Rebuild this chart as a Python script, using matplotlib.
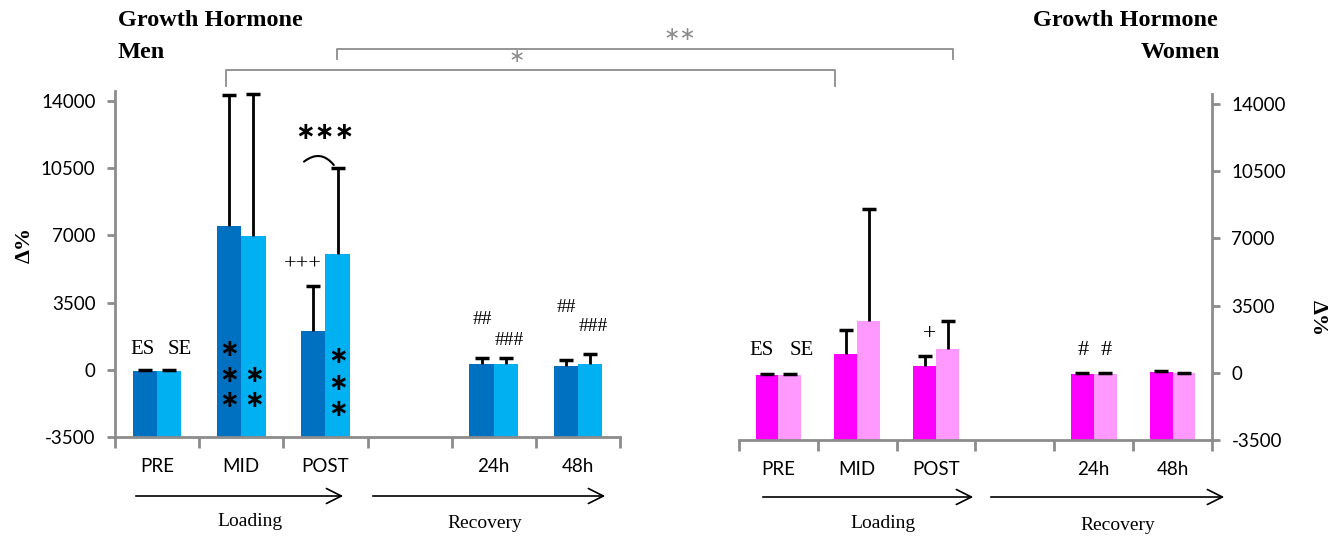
import numpy as np
import matplotlib
matplotlib.use("Agg")
import matplotlib.pyplot as plt
from matplotlib.lines import Line2D
from matplotlib.patches import FancyArrowPatch

# data (delta % vs baseline)
categories = ["PRE", "MID", "POST", "", "24h", "48h"]
men_es = [-50, 7500, 2000, np.nan, 280, 180]
men_es_sd = [30, 6800, 2390, np.nan, 350, 340]
men_se = [-50, 6960, 6040, np.nan, 280, 280]
men_se_sd = [30, 7420, 4490, np.nan, 350, 520]
women_es = [-90, 960, 350, np.nan, -50, 40]
women_es_sd = [30, 1260, 525, np.nan, 40, 50]
women_se = [-90, 2680, 1260, np.nan, -50, -20]
women_se_sd = [30, 5840, 1450, np.nan, 40, 30]
yticks = [-3500, 0, 3500, 7000, 10500, 14000]

W, H = 1334, 539
YMIN, YMAX = -3500, 14500
SANS = "Lato"
SERIF = "Liberation Serif"
GREY = "#8c8c8c"


def fx(x):
    return x / W


def fy(y):
    return 1 - y / H


fig = plt.figure(figsize=(W / 100, H / 100), dpi=100)
ax1 = fig.add_axes([fx(115), fy(437), 505 / W, 345.6 / H])
ax2 = fig.add_axes([fx(739), fy(440), 473 / W, 345.6 / H])


def draw_panel(ax, es, es_sd, se, se_sd, c_dark, c_light, side):
    x = np.arange(len(categories)) + 0.5
    bw = 0.29
    es = np.array(es, float)
    se = np.array(se, float)
    ax.bar(x - bw / 2, es - YMIN, bottom=YMIN, width=bw, color=c_dark, zorder=2)
    ax.bar(x + bw / 2, se - YMIN, bottom=YMIN, width=bw, color=c_light, zorder=2)
    for xs, v, sd in [(x - bw / 2, es, es_sd), (x + bw / 2, se, se_sd)]:
        top = v + np.array(sd, float)
        ax.vlines(xs, v, top, color="black", lw=2, zorder=3)
        ax.plot(xs, top, ls="none", marker="_", ms=10, mew=2.5, color="black", zorder=3)

    ax.set_xlim(0, len(categories))
    ax.set_ylim(YMIN, YMAX)
    ax.set_xticks(np.arange(len(categories) + 1))
    ax.set_xticklabels([])
    ax.set_xticks(x, minor=True)
    ax.set_xticklabels(categories, minor=True, fontsize=13.5, family=SANS)
    ax.tick_params(axis="x", which="major", length=8, width=2, color=GREY, direction="out")
    ax.tick_params(axis="x", which="minor", length=0, pad=15)
    ax.set_yticks(yticks)
    ax.set_yticklabels([str(t) for t in yticks], fontsize=13.5, family=SANS)
    ax.tick_params(axis="y", length=6, width=2, color=GREY, pad=8)
    for s in ax.spines.values():
        s.set_color(GREY)
        s.set_linewidth(2)
    ax.spines["top"].set_visible(False)
    if side == "left":
        ax.spines["right"].set_visible(False)
    else:
        ax.spines["left"].set_visible(False)
        ax.yaxis.tick_right()
    ax.patch.set_visible(False)


draw_panel(ax1, men_es, men_es_sd, men_se, men_se_sd, "#0070c0", "#00b0f0", "left")
draw_panel(ax2, women_es, women_es_sd, women_se, women_se_sd, "#ff00ff", "#ff99ff", "right")

fig.text(fx(25), fy(245), "Δ%", rotation=90, ha="center", va="center",
         family=SERIF, fontsize=16, fontweight="bold")
fig.text(fx(1318), fy(318), "Δ%", rotation=-90, ha="center", va="center",
         family=SERIF, fontsize=16, fontweight="bold")

# titles
title_kw = dict(va="center", family=SERIF, fontsize=17.5, fontweight="bold")
fig.text(fx(118), fy(20), "Growth Hormone", ha="left", **title_kw)
fig.text(fx(118), fy(52), "Men", ha="left", **title_kw)
fig.text(fx(1218), fy(20), "Growth Hormone", ha="right", **title_kw)
fig.text(fx(1220), fy(52), "Women", ha="right", **title_kw)

# annotations, men
serif_kw = dict(family=SERIF, ha="center", va="center")
ax1.text(0.33, 1050, "ES", fontsize=15, **serif_kw)
ax1.text(0.77, 1050, "SE", fontsize=15, **serif_kw)
star_kw = dict(family="DejaVu Sans", ha="center", va="center", fontsize=17,
               fontweight="bold")
for yv in [1100, -250, -1550]:
    ax1.text(1.35, yv, "∗", **star_kw)
for yv in [-250, -1550]:
    ax1.text(1.65, yv, "∗", **star_kw)
for yv in [700, -700, -2050]:
    ax1.text(2.65, yv, "∗", **star_kw)
ax1.text(2.49, 12400, "∗∗∗", **star_kw)
ax1.text(2.23, 5450, "+++", fontsize=16, **serif_kw)
ax1.add_patch(FancyArrowPatch((2.22, 10750), (2.62, 10550), arrowstyle="-",
                              connectionstyle="arc3,rad=-0.55", lw=1.5, color="black"))
hash_kw = dict(fontsize=14, **serif_kw)
ax1.text(4.37, 2600, "##", **hash_kw)
ax1.text(4.69, 1550, "###", **hash_kw)
ax1.text(5.36, 3270, "##", **hash_kw)
ax1.text(5.68, 2230, "###", **hash_kw)

# annotations, women
ax2.text(0.28, 1150, "ES", fontsize=15, **serif_kw)
ax2.text(0.79, 1150, "SE", fontsize=15, **serif_kw)
ax2.text(2.42, 2050, "+", fontsize=17, **serif_kw)
ax2.text(4.37, 1150, "#", fontsize=16, **serif_kw)
ax2.text(4.66, 1150, "#", fontsize=16, **serif_kw)

# brackets between panels
def bracket(x0, x1, y, drop, label, lx, ly):
    fig.add_artist(Line2D([fx(x0), fx(x0), fx(x1), fx(x1)],
                          [fy(y + drop), fy(y), fy(y), fy(y + drop)],
                          color=GREY, lw=1.3))
    fig.text(fx(lx), fy(ly), label, ha="center", va="center", color=GREY,
             family="DejaVu Sans", fontsize=14)


bracket(226, 835, 70, 16, "∗", 517, 57)
bracket(337, 953, 49, 10, "∗∗", 680, 34)

# phase arrows
def phase(x0, x1, y, label, lx, ly):
    fig.add_artist(FancyArrowPatch((fx(x0), fy(y)), (fx(x1), fy(y)),
                                   transform=fig.transFigure,
                                   arrowstyle="->,head_length=0.9,head_width=0.45",
                                   mutation_scale=12, lw=1.2, color="black"))
    fig.text(fx(lx), fy(ly), label, ha="center", va="center", family=SERIF, fontsize=14)


phase(133, 346, 496, "Loading", 250, 522)
phase(370, 608, 496, "Recovery", 485, 524)
phase(760, 976, 497, "Loading", 883, 523)
phase(988, 1227, 497, "Recovery", 1118, 526)

fig.savefig("out.png", dpi=100)
